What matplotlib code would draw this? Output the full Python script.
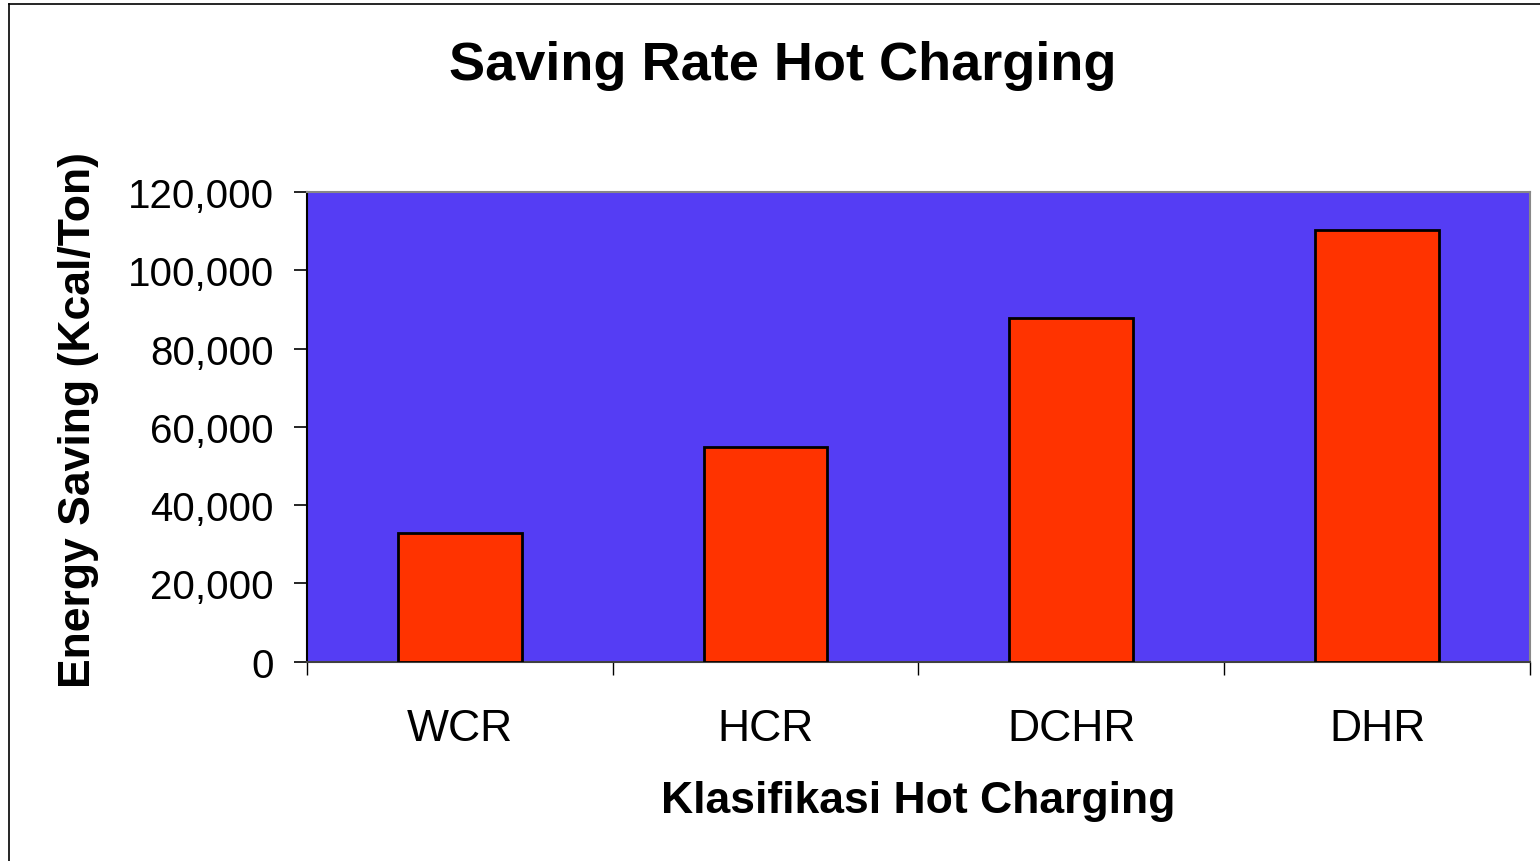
import numpy as np
import matplotlib
matplotlib.use("Agg")
import matplotlib.pyplot as plt
from matplotlib.lines import Line2D
from matplotlib.ticker import FuncFormatter, FixedLocator

# Data
categories = ["WCR", "HCR", "DCHR", "DHR"]
energy_saving = [32900, 54800, 87700, 110200]
y_ticks = [0, 20000, 40000, 60000, 80000, 100000, 120000]

plt.rcParams['font.family'] = ['Liberation Sans', 'DejaVu Sans']

fig = plt.figure(figsize=(15.4, 8.62), dpi=100)
ax = fig.add_axes([306.7 / 1540, 1 - 662.7 / 862, (1530 - 306.7) / 1540, (662.7 - 193) / 862])

x = np.arange(len(categories)) + 0.5
ax.bar(x, energy_saving, width=0.405, color='#FF3300', edgecolor='black', linewidth=2, zorder=3)

ax.set_facecolor('#553DF4')
ax.set_xlim(0, len(categories))
ax.set_ylim(0, 120000)

ax.set_yticks(y_ticks)
ax.yaxis.set_major_formatter(FuncFormatter(lambda v, p: f"{int(v):,}"))
ax.tick_params(axis='y', direction='out', length=9.5, width=1.2, color='black',
               labelsize=29, pad=14)

# category labels at centres, tick marks at category boundaries
ax.set_xticks(x)
ax.set_xticklabels(categories)
ax.xaxis.set_minor_locator(FixedLocator(np.arange(len(categories) + 1)))
ax.tick_params(axis='x', which='major', length=0, labelsize=32, pad=33)
ax.tick_params(axis='x', which='minor', direction='out', length=9, width=1.0, color='black')

ax.spines['left'].set_color('black')
ax.spines['left'].set_linewidth(1.5)
ax.spines['bottom'].set_color('#404040')
ax.spines['bottom'].set_linewidth(1.5)
ax.spines['top'].set_color('#888888')
ax.spines['top'].set_linewidth(1.5)
ax.spines['right'].set_color('#888888')
ax.spines['right'].set_linewidth(1.5)

ax.set_xlabel("Klasifikasi Hot Charging", fontsize=32, fontweight='bold')
ax.xaxis.set_label_coords(0.5, -0.252)
ax.xaxis.label.set_va('top')
ax.set_ylabel("Energy Saving (Kcal/Ton)", fontsize=32, fontweight='bold')
ax.yaxis.set_label_coords(-0.17, 0.516)

fig.text(783 / 1540, 1 - 80 / 862, "Saving Rate Hot Charging", fontsize=39,
         fontweight='bold', ha='center', va='baseline')

# outer frame
fig.add_artist(Line2D([9 / 1540, 9 / 1540], [0, 1 - 5 / 862], color='black', linewidth=1.2))
fig.add_artist(Line2D([9 / 1540, 1], [1 - 5 / 862, 1 - 5 / 862], color='black', linewidth=1.2))

fig.savefig("out.png", dpi=100)
